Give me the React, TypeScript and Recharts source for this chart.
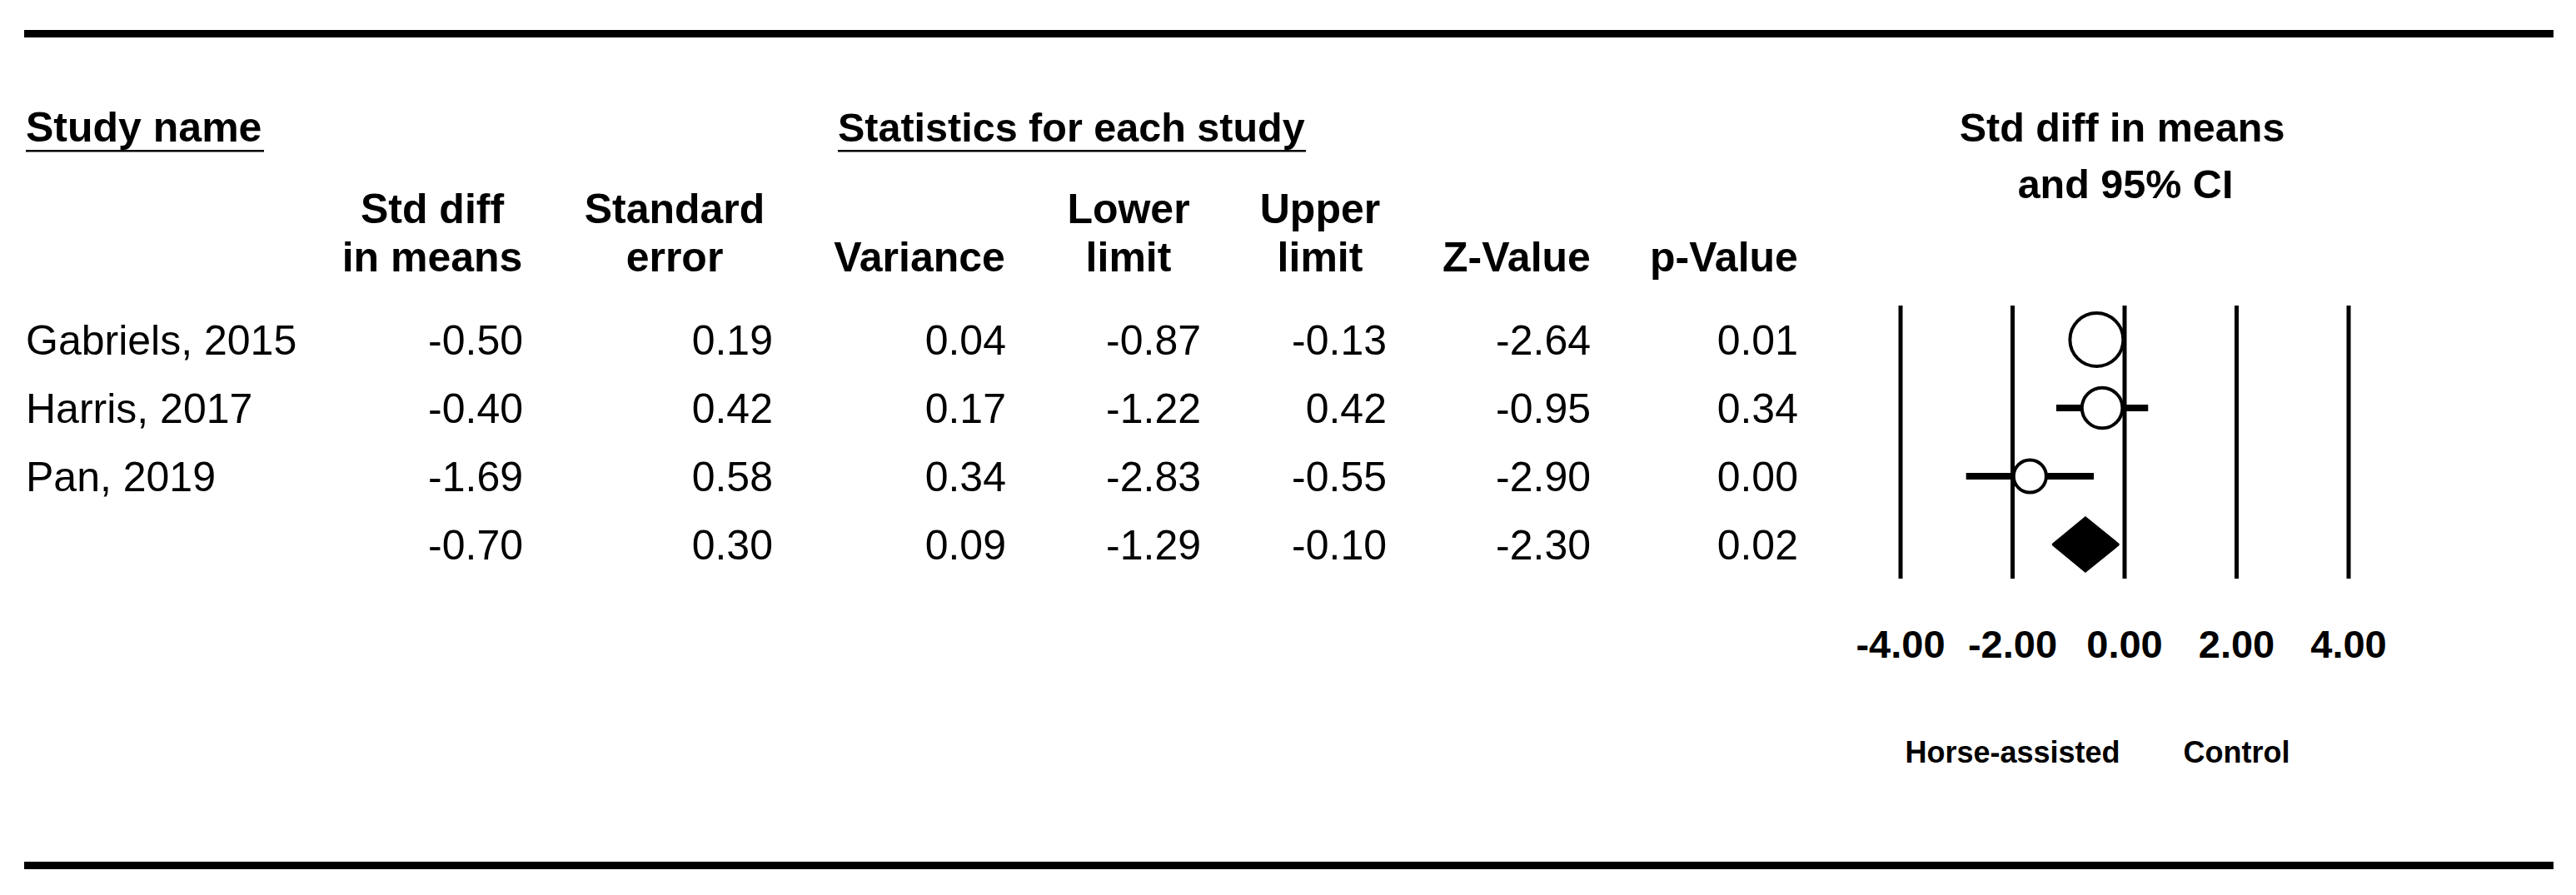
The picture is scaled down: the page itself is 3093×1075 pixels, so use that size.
import { ComposedChart, Area, Scatter, ErrorBar, XAxis, YAxis, ReferenceLine } from 'recharts'

const FONT = '"Liberation Sans", Arial, Helvetica, sans-serif'

// table data, one entry per row (last row = combined effect)
const studies = ['Gabriels, 2015', 'Harris, 2017', 'Pan, 2019', '']
const stdDiff = [-0.5, -0.4, -1.69, -0.7]
const stdErr = [0.19, 0.42, 0.58, 0.3]
const variance = [0.04, 0.17, 0.34, 0.09]
const lower = [-0.87, -1.22, -2.83, -1.29]
const upper = [-0.13, 0.42, -0.55, -0.1]
const zValue = [-2.64, -0.95, -2.9, -2.3]
const pValue = [0.01, 0.34, 0.0, 0.02]
// relative weights (%) of the individual studies, used for marker size
const weights = [51.2, 29.6, 19.2]

const xTicks = [-4, -2, 0, 2, 4]

const colHeaders = [
  ['Std diff', 'in means'],
  ['Standard', 'error'],
  ['', 'Variance'],
  ['Lower', 'limit'],
  ['Upper', 'limit'],
  ['', 'Z-Value'],
  ['', 'p-Value'],
]
const headerCenters = [519, 810, 1104, 1355, 1585, 1821, 2070]
const colRight = [628, 928, 1208, 1442, 1665, 1910, 2159]

const W = 3093
const H = 1075

const studyData = studies.slice(0, 3).map((_, i) => ({
  x: stdDiff[i],
  y: i,
  w: weights[i],
  err: [stdDiff[i] - lower[i], upper[i] - stdDiff[i]],
}))

const tableData = studies.map((name, i) => ({
  x: 0,
  y: i,
  cells: [name, stdDiff[i], stdErr[i], variance[i], lower[i], upper[i], zValue[i], pValue[i]],
}))

const last = studies.length - 1
const diamondData = [
  { x: lower[last], band: [last, last] },
  { x: stdDiff[last], band: [last - 0.4, last + 0.4] },
  { x: upper[last], band: [last, last] },
]

function StudyMarker(props: any) {
  const { cx, cy, payload } = props
  const r = 4.47 * Math.sqrt(payload.w)
  return <circle cx={cx} cy={cy} r={r} fill="#fff" stroke="#000" strokeWidth={4} />
}

function TableRow(props: any) {
  const { cy, payload } = props
  const [name, ...vals] = payload.cells
  const y = cy + 18
  return (
    <g fontSize={50} fill="#000">
      <text x={31} y={y} textAnchor="start">{name}</text>
      {vals.map((v: number, j: number) => (
        <text key={j} x={colRight[j]} y={y} textAnchor="end">{v.toFixed(2)}</text>
      ))}
    </g>
  )
}

function Frame() {
  return (
    <svg width={W} height={H} style={{ position: 'absolute', left: 0, top: 0, pointerEvents: 'none' }}>
      <rect x={29} y={36} width={3037} height={9} fill="#000" />
      <rect x={29} y={1035} width={3037} height={9} fill="#000" />
      <g fontSize={50} fontWeight="bold" fill="#000">
        <text x={31} y={170}>Study name</text>
        <rect x={31} y={180} width={286} height={2.5} />
        <text x={1006} y={170} fontSize={48.5}>Statistics for each study</text>
        <rect x={1006} y={180} width={562} height={2.5} />
        <text x={2548} y={170} textAnchor="middle" fontSize={48.5}>Std diff in means</text>
        <text x={2552} y={238} textAnchor="middle" fontSize={48.5}>and 95% CI</text>
        {colHeaders.map((h, j) => (
          <g key={j}>
            {h[0] && <text x={headerCenters[j]} y={268} textAnchor="middle">{h[0]}</text>}
            <text x={headerCenters[j]} y={326} textAnchor="middle">{h[1]}</text>
          </g>
        ))}
      </g>
    </svg>
  )
}

export default function App() {
  return (
    <div style={{ position: 'absolute', left: 0, top: 0, width: W, height: H, background: '#fff', fontFamily: FONT }}>
      <Frame />
      <div style={{ position: 'absolute', left: 0, top: 0 }}>
        <ComposedChart
          width={W}
          height={H}
          data={diamondData}
          margin={{ left: 2282, right: W - 2820, top: 367, bottom: H - 695 - 120 }}
        >
          <XAxis
            type="number"
            dataKey="x"
            domain={[-4, 4]}
            ticks={xTicks}
            tickFormatter={(v: number) => v.toFixed(2)}
            axisLine={false}
            tickLine={false}
            tickSize={0}
            tickMargin={62}
            height={120}
            interval={0}
            tick={{ fontSize: 47, fontWeight: 'bold', fill: '#000' }}
          />
          <YAxis type="number" dataKey="y" domain={[-0.5, 3.5]} reversed hide />
          {xTicks.map((t) => (
            <ReferenceLine
              key={t}
              x={t}
              stroke="#000"
              strokeWidth={5}
              label={
                t === -2
                  ? { value: 'Horse-assisted', position: 'bottom', offset: 195, fontSize: 36, fontWeight: 'bold', fill: '#000' }
                  : t === 2
                  ? { value: 'Control', position: 'bottom', offset: 195, fontSize: 36, fontWeight: 'bold', fill: '#000' }
                  : undefined
              }
            />
          ))}
          <Area
            type="linear"
            dataKey="band"
            stroke="#000"
            strokeWidth={2}
            fill="#000"
            fillOpacity={1}
            dot={false}
            activeDot={false}
            isAnimationActive={false}
          />
          <Scatter data={studyData} shape={<StudyMarker />} isAnimationActive={false}>
            <ErrorBar dataKey="err" direction="x" width={0} stroke="#000" strokeWidth={8} isAnimationActive={false} />
          </Scatter>
          <Scatter data={tableData} shape={<TableRow />} isAnimationActive={false} />
        </ComposedChart>
      </div>
    </div>
  )
}
